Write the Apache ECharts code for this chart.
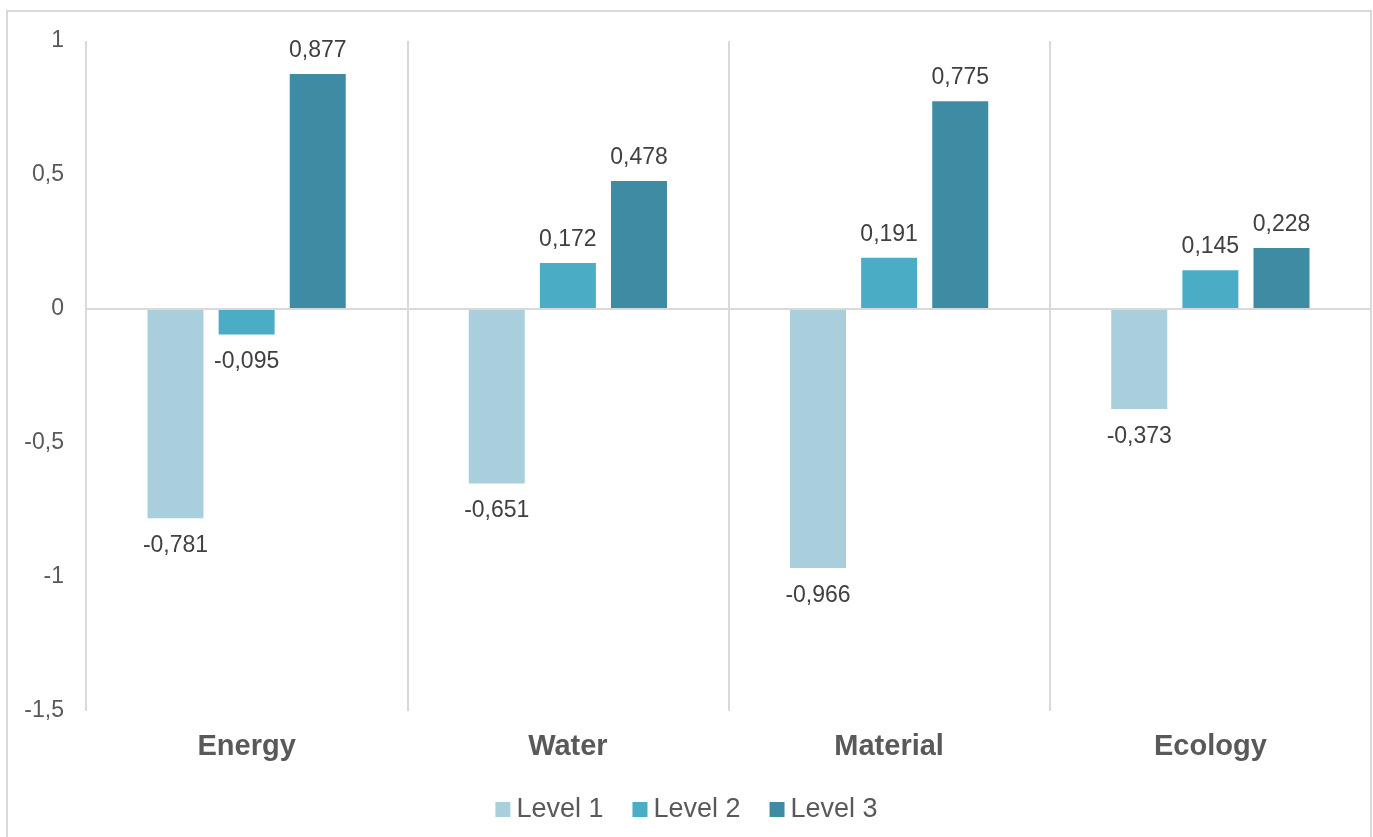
<!DOCTYPE html>
<html>
<head>
<meta charset="utf-8">
<script src="https://cdn.jsdelivr.net/npm/echarts@6/dist/echarts.min.js"></script>
<style>
  html, body { margin: 0; padding: 0; background: #fff; }
  #chart { width: 1373px; height: 837px; }
</style>
</head>
<body>
<div id="chart"></div>
<script>
// data
var categories = ['Energy', 'Water', 'Material', 'Ecology'];
var level1 = [-0.781, -0.651, -0.966, -0.373];
var level2 = [-0.095, 0.172, 0.191, 0.145];
var level3 = [0.877, 0.478, 0.775, 0.228];
var seriesNames = ['Level 1', 'Level 2', 'Level 3'];
var colors = ['#a9cfdc', '#4bacc6', '#3d8ca3'];

function comma(v) {
  return String(v).replace('.', ',');
}

// positive labels sit on top, negative ones below the bar
function withLabels(values) {
  return values.map(function (v) {
    return {
      value: v,
      label: v < 0 ? { position: 'bottom', distance: 16 } : { position: 'top', distance: 12 }
    };
  });
}

var chart = echarts.init(document.getElementById('chart'));

var option = {
  animation: false,
  color: colors,
  textStyle: { fontFamily: 'Liberation Sans, Arial, sans-serif' },
  graphic: [{
    type: 'rect',
    shape: { x: 7, y: 11, width: 1364, height: 860 },
    style: { fill: 'none', stroke: '#d9d9d9', lineWidth: 2 },
    silent: true
  }],
  grid: { left: 86, right: 2, top: 41, bottom: 126 },
  legend: {
    top: 791,
    left: 'center',
    icon: 'rect',
    itemWidth: 15,
    itemHeight: 15,
    itemGap: 29,
    textStyle: { fontSize: 27, color: '#595959', padding: [0, 0, 0, 1] },
    data: seriesNames
  },
  xAxis: {
    type: 'category',
    data: categories,
    axisLine: { show: false, onZero: false },
    axisTick: { show: false },
    splitLine: { show: true, lineStyle: { color: '#d9d9d9', width: 2 } },
    axisLabel: { margin: 21, fontSize: 29, fontWeight: 'bold', color: '#595959' }
  },
  yAxis: {
    type: 'value',
    min: -1.5,
    max: 1,
    interval: 0.5,
    axisLine: { show: false },
    axisTick: { show: false },
    splitLine: { show: false },
    axisLabel: {
      margin: 22,
      fontSize: 23,
      color: '#595959',
      formatter: function (v) { return comma(v); }
    }
  },
  series: [level1, level2, level3].map(function (vals, i) {
    var s = {
      name: seriesNames[i],
      type: 'bar',
      barWidth: 56,
      barGap: '27%',
      data: withLabels(vals),
      label: {
        show: true,
        fontSize: 23,
        color: '#404040',
        formatter: function (p) { return comma(p.value.toFixed(3)); }
      }
    };
    if (i === 0) {
      s.markLine = {
        silent: true,
        symbol: 'none',
        label: { show: false },
        lineStyle: { color: '#d9d9d9', width: 2, type: 'solid' },
        data: [{ yAxis: 0 }]
      };
    }
    return s;
  })
};

chart.setOption(option);
</script>
</body>
</html>
